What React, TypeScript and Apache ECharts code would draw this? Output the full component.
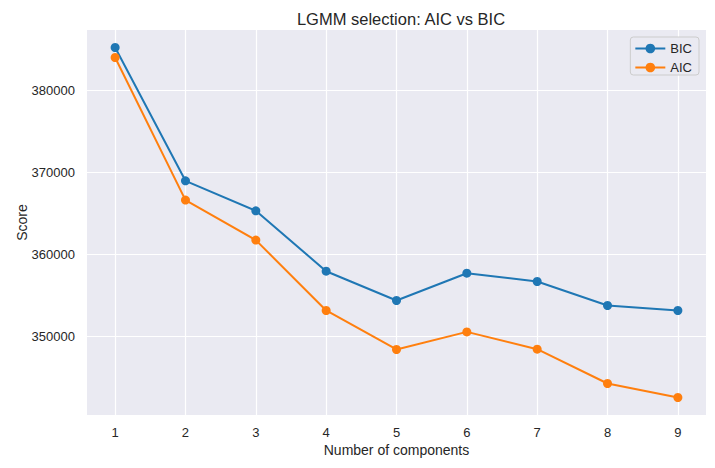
import React, { useEffect, useRef } from "react";
import * as echarts from "echarts";

const components = [1, 2, 3, 4, 5, 6, 7, 8, 9];
const bicValues = [385244, 368988, 365329, 357963, 354390, 357720, 356707, 353780, 353171];
const aicValues = [384024, 366634, 361756, 353171, 348415, 350561, 348451, 344268, 342561];
const yTicks = [350000, 360000, 370000, 380000];
const xTicks = [1, 2, 3, 4, 5, 6, 7, 8, 9];

const FONT = "'Liberation Sans', Arial, sans-serif";
const TEXT = "#262626";

export default function App() {
  const ref = useRef<HTMLDivElement>(null);
  useEffect(() => {
    if (!ref.current) return;
    const chart = echarts.init(ref.current, undefined, { renderer: "svg" });
    const allVals = bicValues.concat(aicValues);
    const dMin = Math.min(...allVals);
    const dMax = Math.max(...allVals);
    const pad = (dMax - dMin) * 0.05;
    chart.setOption({
      animation: false,
      backgroundColor: "#ffffff",
      textStyle: { fontFamily: FONT },
      title: {
        text: "LGMM selection: AIC vs BIC",
        left: 396,
        textAlign: "center",
        top: 5,
        textStyle: { fontFamily: FONT, fontSize: 16.5, fontWeight: "normal", color: TEXT },
      },
      grid: {
        left: 87,
        right: 9,
        top: 30,
        bottom: 53,
        containLabel: false,
        outerBoundsMode: "none",
        show: true,
        backgroundColor: "#EAEAF2",
        borderWidth: 0,
      },
      legend: {
        orient: "vertical",
        right: 16,
        top: 37,
        itemWidth: 30,
        itemHeight: 12,
        itemGap: 6,
        padding: [5, 7, 1, 4],
        backgroundColor: "#EAEAF2",
        borderColor: "#CCCCCC",
        borderWidth: 1,
        borderRadius: 3,
        textStyle: { fontFamily: FONT, fontSize: 13, color: TEXT },
        data: ["BIC", "AIC"],
      },
      xAxis: {
        type: "value",
        min: 0.6,
        max: 9.4,
        name: "Number of components",
        nameLocation: "middle",
        nameGap: 28,
        nameMoveOverlap: false,
        nameTextStyle: { fontFamily: FONT, fontSize: 14, color: TEXT },
        axisLine: { show: false },
        axisTick: { show: false, customValues: xTicks },
        axisLabel: {
          customValues: xTicks,
          fontFamily: FONT,
          fontSize: 13,
          color: TEXT,
          margin: 11,
          formatter: (v: number) => String(v),
        },
        splitLine: { show: true, lineStyle: { color: "#ffffff", width: 1.2 } },
      },
      yAxis: {
        type: "value",
        min: dMin - pad,
        max: dMax + pad,
        name: "Score",
        nameLocation: "middle",
        nameGap: 58,
        nameMoveOverlap: false,
        nameRotate: 90,
        nameTextStyle: { fontFamily: FONT, fontSize: 14, color: TEXT },
        axisLine: { show: false },
        axisTick: { show: false, customValues: yTicks },
        axisLabel: {
          customValues: yTicks,
          fontFamily: FONT,
          fontSize: 13,
          color: TEXT,
          margin: 12,
          formatter: (v: number) => String(v),
        },
        splitLine: { show: true, lineStyle: { color: "#ffffff", width: 1.2 } },
      },
      series: [
        {
          name: "BIC",
          type: "line",
          data: components.map((c, i) => [c, bicValues[i]]),
          symbol: "circle",
          symbolSize: 9,
          itemStyle: { color: "#1f77b4" },
          lineStyle: { color: "#1f77b4", width: 2 },
        },
        {
          name: "AIC",
          type: "line",
          data: components.map((c, i) => [c, aicValues[i]]),
          symbol: "circle",
          symbolSize: 9,
          itemStyle: { color: "#ff7f0e" },
          lineStyle: { color: "#ff7f0e", width: 2 },
        },
      ],
    });
    return () => chart.dispose();
  }, []);
  return <div ref={ref} style={{ width: 715, height: 468, margin: -8 }} />;
}
